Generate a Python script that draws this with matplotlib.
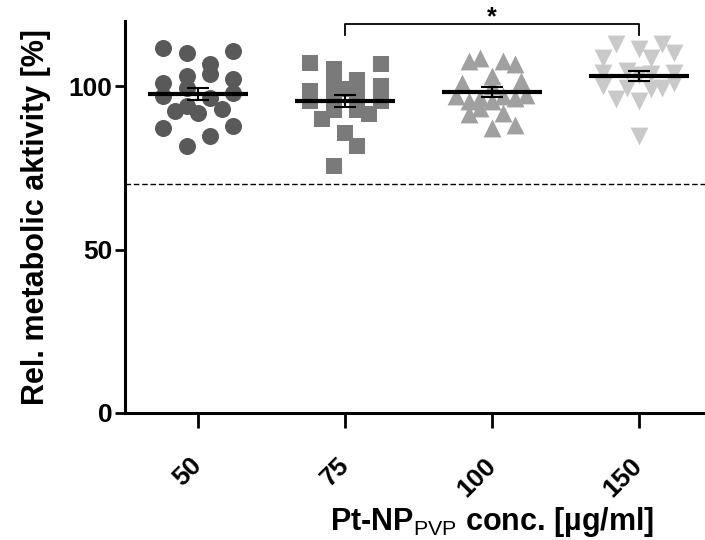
import numpy as np
import matplotlib
matplotlib.use('Agg')
import matplotlib.pyplot as plt

plt.rcParams['font.family'] = ['Liberation Sans', 'DejaVu Sans']
plt.rcParams['mathtext.fontset'] = 'custom'
plt.rcParams['mathtext.rm'] = 'Liberation Sans'
plt.rcParams['mathtext.bf'] = 'Liberation Sans:bold'

categories = ['50', '75', '100', '150']

vals_50 = [111.6, 110.1, 110.8, 106.7, 103.7, 103.2, 101.1, 102.4, 99.6, 96.5,
           97.0, 98.1, 92.4, 94.0, 91.7, 93.1, 87.3, 87.8, 84.8, 81.7]
offs_50 = [-0.238, -0.079, 0.238, 0.08, 0.08, -0.079, -0.238, 0.238, -0.079, 0.08,
           -0.238, 0.238, -0.159, -0.079, 0.0, 0.159, -0.238, 0.238, 0.08, -0.079]

vals_75 = [107.3, 98.6, 95.5, 89.9, 105.2, 101.1, 96.5, 92.9, 99.1, 85.8,
           102.1, 97.5, 92.9, 81.7, 91.4, 106.7, 100.1, 95.5, 75.5]
offs_75 = [-0.238, -0.238, -0.238, -0.159, -0.08, -0.08, -0.08, -0.08, 0.0, 0.0,
           0.08, 0.08, 0.08, 0.08, 0.159, 0.243, 0.243, 0.243, -0.08]

vals_100 = [107.8, 108.8, 107.8, 106.7, 103.2, 101.1, 101.7, 97.0, 96.5, 97.0,
            97.5, 95.5, 96.5, 95.5, 93.4, 91.4, 91.9, 87.3, 88.3, 100.0]
offs_100 = [-0.159, -0.082, 0.077, 0.159, 0.0, -0.204, 0.197, -0.245, -0.082, 0.077,
            0.231, -0.159, 0.159, 0.0, -0.082, -0.159, 0.077, 0.0, 0.159, 0.0]

vals_150 = [112.9, 111.3, 112.9, 110.3, 108.8, 108.8, 104.2, 104.7, 103.7, 104.2,
            100.1, 99.6, 99.1, 99.6, 101.1, 96.0, 95.5, 84.8, 103.5]
offs_150 = [-0.159, 0.0, 0.159, 0.238, -0.245, 0.08, -0.245, -0.079, 0.08, 0.238,
            -0.245, -0.079, 0.08, 0.159, 0.238, -0.159, 0.0, 0.0, 0.0]

groups = [(vals_50, offs_50, 'o', '#595959', 150),
          (vals_75, offs_75, 's', '#7a7a7a', 140),
          (vals_100, offs_100, '^', '#a0a0a0', 165),
          (vals_150, offs_150, 'v', '#c9c9c9', 165)]

fig = plt.figure(figsize=(7.05, 5.4), dpi=100)
ax = fig.add_axes([0.1773, 0.2352, 0.8227, 0.7258])

ax.axhline(70, color='black', lw=1.0, ls=(0, (4, 2)), zorder=1)

for i, (vals, offs, mk, col, sz) in enumerate(groups):
    x = i + np.array(offs)
    ax.scatter(x, vals, marker=mk, s=sz, color=col, linewidths=0, zorder=2)
    m = np.mean(vals)
    sem = np.std(vals, ddof=1) / np.sqrt(len(vals))
    ax.plot([i - 0.34, i + 0.34], [m, m], color='black', lw=3, zorder=3,
            solid_capstyle='butt')
    ax.errorbar(i, m, yerr=sem, color='black', capsize=8, capthick=1.5,
                elinewidth=1.5, zorder=3)

# significance bracket 75 vs 150
ax.plot([1, 1, 3, 3], [115.6, 119, 119, 115.6], color='black', lw=1.3,
        clip_on=False, zorder=4)
ax.text(2, 117.6, '*', ha='center', va='bottom', fontsize=18,
        fontweight='bold', clip_on=False)

ax.set_xlim(-0.5, 3.45)
ax.set_ylim(0, 120)
ax.set_yticks([0, 50, 100])
ax.set_xticks(range(len(categories)))
ax.set_xticklabels(categories, rotation=45, ha='right', va='center',
                   rotation_mode='anchor')
ax.tick_params(axis='y', length=7, width=2, labelsize=19, pad=2)
ax.tick_params(axis='x', length=11, width=2, labelsize=19, pad=24)
for t in ax.get_xticklabels() + ax.get_yticklabels():
    t.set_fontweight('bold')

ax.spines['top'].set_visible(False)
ax.spines['right'].set_visible(False)
ax.spines['left'].set_linewidth(2.2)
ax.spines['bottom'].set_linewidth(2.2)

ax.set_ylabel('Rel. metabolic aktivity [%]', fontsize=22, fontweight='bold')
ax.yaxis.set_label_coords(-0.127, 0.5)
ax.set_xlabel(r'Pt-NP$_{\mathrm{PVP}}$ conc. [µg/ml]', fontsize=22,
              fontweight='bold')
ax.xaxis.set_label_coords(0.633, -0.236)

fig.savefig('out.png', dpi=100)
